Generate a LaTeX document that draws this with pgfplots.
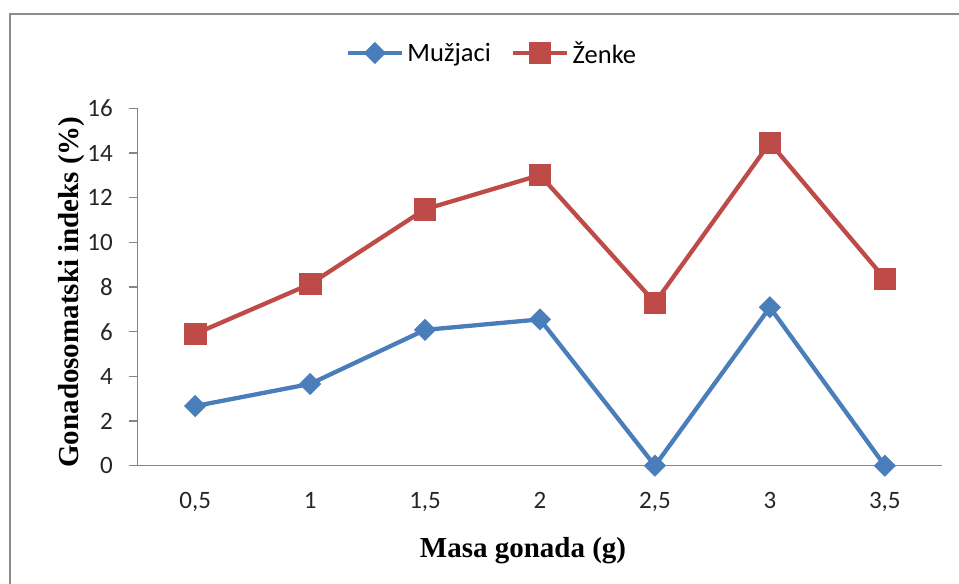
\documentclass[border=0pt]{standalone}
\usepackage{fontspec}
\setmainfont{Liberation Serif}
\newfontfamily\calibri{Carlito}
\usepackage{pgfplots}
\pgfplotsset{compat=1.18}
\definecolor{exblue}{HTML}{4A7EBB}
\definecolor{exred}{HTML}{BE4B48}
\definecolor{axgray}{HTML}{868686}
\definecolor{framegray}{HTML}{8C8C8C}
\begin{document}
\begin{tikzpicture}[x=1bp,y=1bp]
\useasboundingbox (0,0) rectangle (959,584);
\begin{scope}
\clip (0,0) rectangle (959,584);
\draw[framegray, line width=2bp] (10,-30) rectangle (1000,570);
\end{scope}
\begin{axis}[
  at={(137.7bp,118.3bp)}, anchor=south west,
  scale only axis, width=804.6bp, height=357.4bp,
  xmin=-0.5, xmax=6.5, ymin=0, ymax=16,
  axis lines*=left,
  axis line style={axgray, line width=1.3bp},
  xtick={0,1,2,3,4,5,6},
  xticklabels={{0,5},{1},{1,5},{2},{2,5},{3},{3,5}},
  major x tick style={draw=none},
  ytick={0,2,4,6,8,10,12,14,16},
  tick align=outside,
  major tick length=9bp,
  major y tick style={axgray, line width=1.3bp},
  /pgf/number format/assume math mode=true,
  ticklabel style={font=\calibri\fontsize{25bp}{30bp}\selectfont, text=black!85},
  yticklabel style={anchor=east, inner sep=0pt},
  yticklabel shift=15.7bp,
  xticklabel style={anchor=north, inner sep=0pt},
  xticklabel shift=17.3bp,
  clip=false,
  legend columns=2,
  legend style={draw=none, fill=none, inner sep=0pt, outer sep=0pt,
    at={(rel axis cs:0.2585,1.1547)}, anchor=west,
    font=\calibri\fontsize{26.5bp}{32bp}\selectfont,
    nodes={inner sep=0pt},
    /tikz/every odd column/.append style={column sep=3.5bp},
    /tikz/every even column/.append style={column sep=20bp}},
  legend image code/.code={\draw[mark repeat=2,mark phase=2,#1] plot coordinates {(0bp,0bp) (27bp,0bp) (54bp,0bp)};},
]
\addplot[exblue, line width=4.3bp, mark=square*, mark size=7.6bp, mark options={rotate=45, line width=0.4bp, fill=exblue}]
  coordinates {(0,2.67) (1,3.66) (2,6.08) (3,6.55) (4,0) (5,7.09) (6,0)};
\addlegendentry{Mužjaci}
\addplot[exred, line width=4.3bp, mark=square*, mark size=10.6bp, mark options={line width=0.4bp, fill=exred}]
  coordinates {(0,5.90) (1,8.13) (2,11.48) (3,13.01) (4,7.30) (5,14.46) (6,8.37)};
\addlegendentry{Ženke}
\end{axis}
\node[anchor=base, inner sep=0pt, font=\bfseries\fontsize{29bp}{34bp}\selectfont] at (523,26) {Masa gonada (g)};
\node[anchor=base, inner sep=0pt, rotate=90, font=\bfseries\fontsize{29bp}{34bp}\selectfont] at (78,292) {Gonadosomatski indeks (\%)};
\end{tikzpicture}
\end{document}
